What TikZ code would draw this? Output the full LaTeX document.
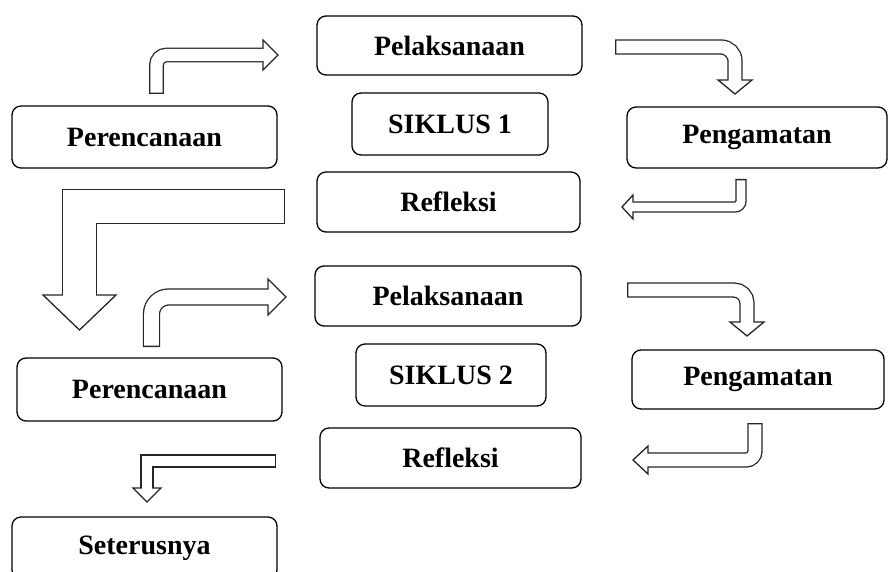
\documentclass[tikz,border=0pt]{standalone}
\usepackage{fontspec}
\setmainfont{Liberation Serif}
\usepackage{tikz}
\usetikzlibrary{positioning,calc}
\tikzstyle{block} = [draw, rectangle, rounded corners=9pt, line width=1.3pt, minimum height=60pt, minimum width=265pt, inner sep=0pt, font=\fontsize{28}{33}\selectfont\bfseries]
\tikzstyle{head} = [fill=white, draw=black!85, line width=1.3pt]
\tikzset{fat/.style={draw=black!85, line width=#1+1.3pt, postaction={draw=white, line width=#1-1.3pt, shorten <=1.3pt, shorten >=-1pt}}}

\begin{document}
\begin{tikzpicture}[x=1pt, y=-1pt]
	\useasboundingbox (0,0) rectangle (888,572);
	% siklus 1
	\node (per1) [block, minimum height=62pt] at (144.5,137) {Perencanaan};
	\node (pel1) [block, minimum height=59pt] at (449.5,45.5) {Pelaksanaan};
	\node (sik1) [block, minimum width=196pt, minimum height=62pt] at (450,124) {SIKLUS 1};
	\node (pen1) [block, minimum width=260pt, minimum height=61pt] at (757,137.5) {Pengamatan};
	\node (ref1) [block, minimum width=263pt] at (448.5,202) {Refleksi};
	% siklus 2
	\node (pel2) [block, minimum width=266pt] at (448,296) {Pelaksanaan};
	\node (sik2) [block, minimum width=190pt, minimum height=62pt] at (451,375) {SIKLUS 2};
	\node (pen2) [block, minimum width=252pt, minimum height=59pt] at (758,379.5) {Pengamatan};
	\node (per2) [block, minimum height=63pt] at (149.5,389.5) {Perencanaan};
	\node (ref2) [block, minimum width=261pt] at (450.5,458) {Refleksi};
	\node (ter) [block, minimum height=62pt] at (144.5,548) {Seterusnya};
	% ends of the block arrows
	\coordinate (a1s) at (156.5,94);  \coordinate (a1b) at (263,55);
	\coordinate (a2s) at (615,47);    \coordinate (a2b) at (735,80);
	\coordinate (a3s) at (741,179);   \coordinate (a3b) at (633,207);
	\coordinate (a4s) at (285,206.5); \coordinate (a4b) at (79.5,295);
	\coordinate (a5s) at (151.5,347); \coordinate (a5b) at (268,297);
	\coordinate (a6s) at (627,290);   \coordinate (a6b) at (747,322);
	\coordinate (a7s) at (755,423);   \coordinate (a7b) at (648,460);
	\coordinate (a8s) at (276,461);   \coordinate (a8b) at (147,488);
	% heads
	\draw [head] (263,40) -- (278,55) -- (263,70) -- cycle;
	\draw [head] (718,80) -- (735,94) -- (752,80) -- cycle;
	\draw [head] (633,195) -- (622,207) -- (633,219) -- cycle;
	\draw [head] (43,295) -- (79.5,330) -- (116,295) -- cycle;
	\draw [head] (268,279) -- (286,297) -- (268,315) -- cycle;
	\draw [head] (730,322) -- (747,336) -- (764,322) -- cycle;
	\draw [head] (648,446) -- (633,460) -- (648,474) -- cycle;
	\draw [head] (133,488) -- (147,502) -- (161,488) -- cycle;
	% shafts
	\draw [fat=13.5, rounded corners=10pt] (a1s) |- (a1b);
	\draw [fat=14, rounded corners=14pt] (a2s) -| (a2b);
	\draw [fat=10, rounded corners=6pt] (a3s) |- (a3b);
	\draw [fat=34] (a4s) -| (a4b);
	\draw [fat=16, rounded corners=17pt] (a5s) |- (a5b);
	\draw [fat=14, rounded corners=13pt] (a6s) -| (a6b);
	\draw [fat=14, rounded corners=9pt] (a7s) |- (a7b);
	\draw [fat=12] (a8s) -| (a8b);
\end{tikzpicture}
\end{document}
